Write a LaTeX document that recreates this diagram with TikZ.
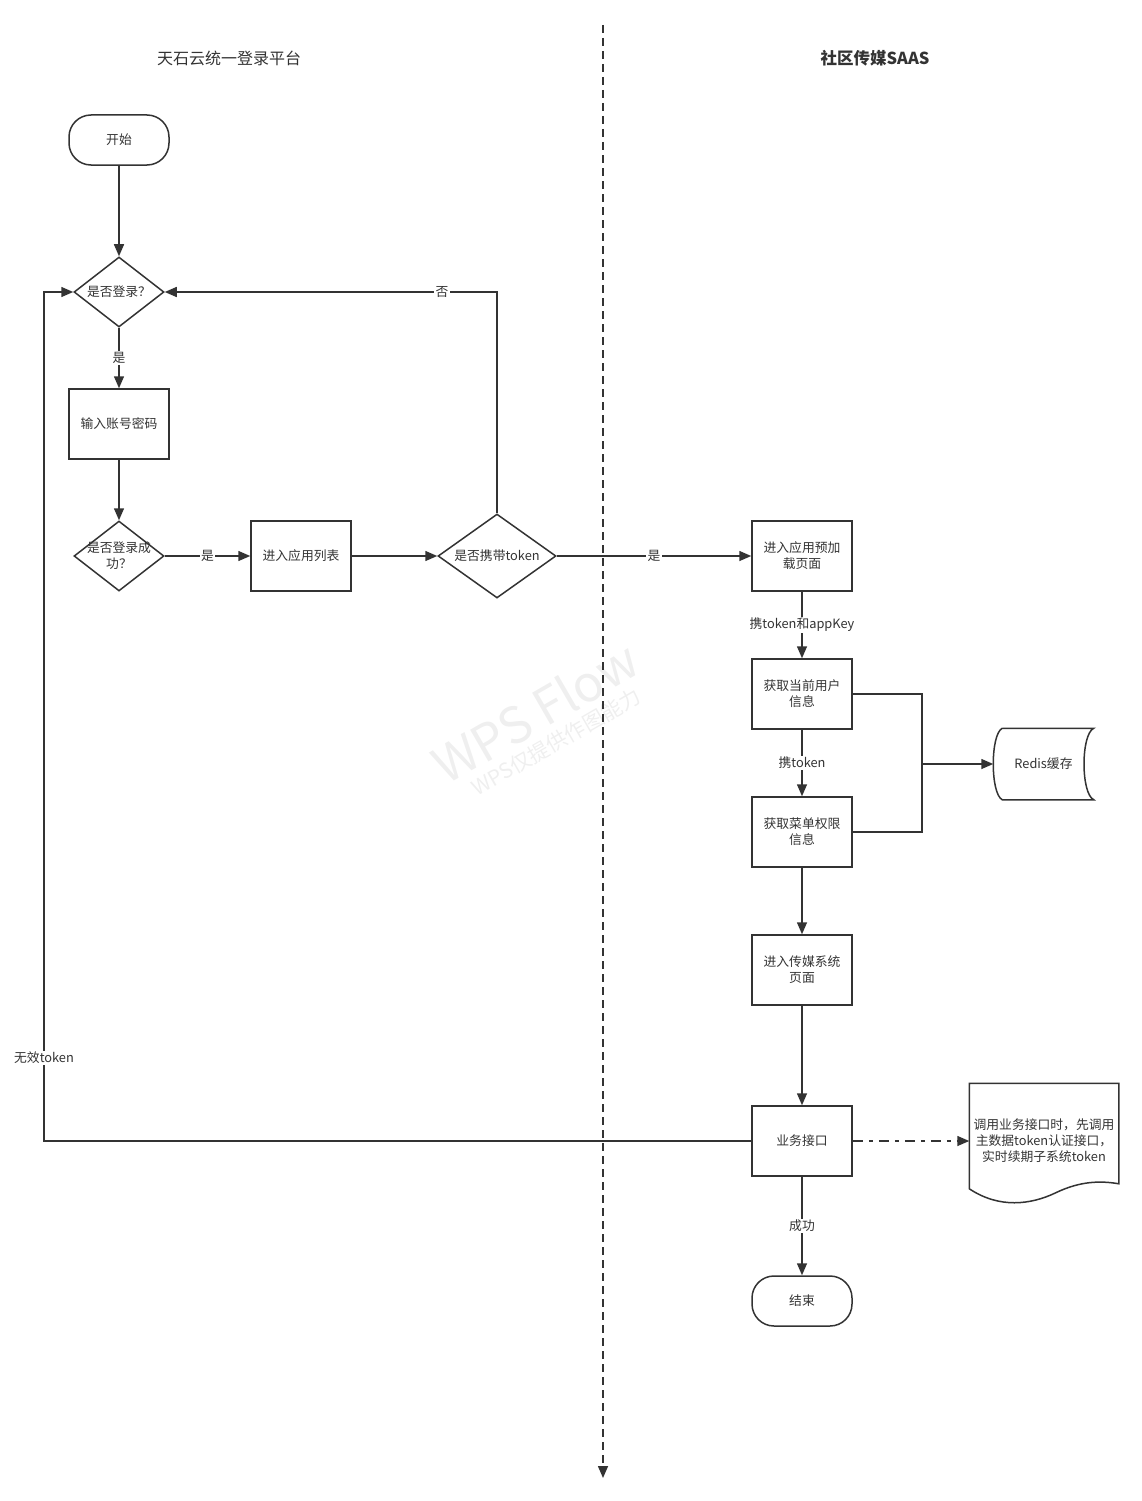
\documentclass[tikz,border=0pt]{standalone}
\usepackage{fontspec}
\setmainfont{Noto Sans CJK SC}
\usetikzlibrary{calc, arrows.meta, shapes.geometric}
\definecolor{ink}{HTML}{333333}
\definecolor{mark}{HTML}{EFEFEF}

\tikzset{
    proc/.style={draw, minimum width=100pt, minimum height=70pt, align=center, inner sep=2pt},
    term/.style={draw, rounded corners=22pt, minimum width=100pt, minimum height=50pt},
    decision/.style={draw, diamond, inner sep=0pt},
    tag/.style={fill=white, inner sep=1.5pt},
    flow/.style={-{Triangle[length=12pt, width=10pt]}},
}

\begin{document}
\begin{tikzpicture}[x=1pt, y=-1pt, line width=1.5pt, color=ink,
    font=\fontsize{12.8}{16}\selectfont]
    \useasboundingbox (0,0) rectangle (1142,1501);

    % watermark
    \node[color=mark, rotate=30, font=\fontsize{50}{50}\selectfont] (wm) at (535,712) {WPS Flow};
    \node[color=mark, rotate=30, font=\fontsize{21}{21}\selectfont] (wmsub) at (556,742) {WPS仅提供作图能力};

    % lanes
    \coordinate (top) at (603,25);
    \coordinate (bottom) at (603,1478);
    \draw[flow, dash pattern=on 8pt off 5pt] (top) -- (bottom);

    \node (lefttitle) at (229,58) {\fontsize{16}{20}\selectfont 天石云统一登录平台};
    \node (righttitle) at (875,58) {\fontsize{16.5}{20}\selectfont\bfseries 社区传媒SAAS};

    % login side
    \node[term] (start) at (119,140) {开始};
    \node[decision, minimum width=90pt, minimum height=70pt,
        label=center:是否登录？] (login) at (119,292) {};
    \node[proc] (pwd) at (119,424) {输入账号密码};
    \node[decision, minimum width=90pt, minimum height=70pt,
        label={[align=center]center:是否登录成\\功？}] (ok) at (119,556) {};
    \node[proc] (applist) at (301,556) {进入应用列表};
    \node[decision, minimum width=118pt, minimum height=84pt,
        label=center:是否携带token] (hastoken) at (497,556) {};

    % saas side
    \node[proc] (preload) at (802,556) {进入应用预加\\载页面};
    \node[proc] (user) at (802,694) {获取当前用户\\信息};
    \node[proc] (menu) at (802,832) {获取菜单权限\\信息};
    \node[proc] (media) at (802,970) {进入传媒系统\\页面};
    \node[proc] (api) at (802,1141) {业务接口};
    \node[term] (finish) at (802,1301) {结束};

    \node[minimum width=99pt, minimum height=70pt] (redis) at (1043.5,764) {Redis缓存};
    \draw ($(redis.north west)+(9,0)$) -- (redis.north east)
        .. controls ($(redis.north east)+(-13,6)$) and ($(redis.south east)+(-13,-6)$) .. (redis.south east)
        -- ($(redis.south west)+(9,0)$)
        .. controls ($(redis.south west)+(-3,-6)$) and ($(redis.north west)+(-3,6)$) .. ($(redis.north west)+(9,0)$);

    \node[minimum width=148pt, minimum height=114pt, align=center, inner sep=0pt] (note) at (1044,1141)
        {调用业务接口时，先调用\\主数据token认证接口，\\实时续期子系统token};
    \draw (note.north west) -- (note.north east) -- ($(note.south east)+(0,-15)$)
        .. controls ($(note.south east)+(-18,-18)$) and ($(note.south east)+(-38,-18)$) .. ($(note.south east)+(-63,-6)$)
        .. controls ($(note.south east)+(-88,6)$) and ($(note.south west)+(30,10)$) .. ($(note.south west)+(0,-10)$)
        -- cycle;

    \coordinate (hub) at (922,764);
    \coordinate (back) at (44,1141);

    % connectors
    \draw[flow] (start) -- (login);
    \draw[flow] (login) -- (pwd);
    \draw[flow] (pwd) -- (ok);
    \draw[flow] (ok) -- (applist);
    \draw[flow] (applist) -- (hastoken);
    \draw[flow] (hastoken.north) |- (login.east);
    \draw[flow] (hastoken) -- (preload);
    \draw[flow] (preload) -- (user);
    \draw[flow] (user) -- (menu);
    \draw (user.east) -| (hub) |- (menu.east);
    \draw[flow] (hub) -- (redis);
    \draw[flow] (menu) -- (media);
    \draw[flow] (media) -- (api);
    \draw[flow] (api) -- (finish);
    \draw[flow] (api.west) -- (back) |- (login.west);
    \draw[flow, dash pattern=on 10pt off 6pt on 4pt off 6pt] (api) -- (note);

    % labels
    \node[tag] (yes1) at ($(login.south)!0.5!(pwd.north)$) {是};
    \node[tag] (yes2) at ($(ok.east)!0.5!(applist.west)$) {是};
    \node[tag] (no1) at (442,292) {否};
    \node[tag] (yes3) at ($(hastoken.east)!0.5!(preload.west)$) {是};
    \node[tag] (withkey) at ($(preload.south)!0.5!(user.north)$) {携token和appKey};
    \node[tag] (withtoken) at ($(user.south)!0.5!(menu.north)$) {携token};
    \node[tag] (success) at ($(api.south)!0.5!(finish.north)$) {成功};
    \node[tag] (invalid) at (44,1058) {无效token};
\end{tikzpicture}
\end{document}
